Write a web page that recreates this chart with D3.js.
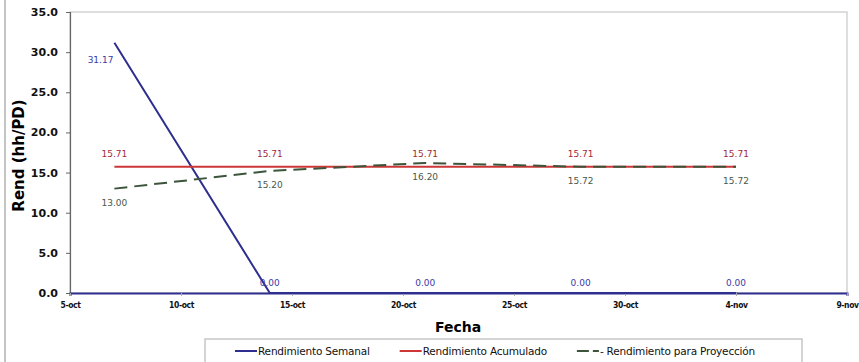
<!DOCTYPE html>
<html>
<head>
<meta charset="utf-8">
<script src="https://cdn.jsdelivr.net/npm/d3@7"></script>
<style>
  body { margin: 0; background: #fff; }
  svg { display: block; }
</style>
</head>
<body>
<div id="chart"></div>
<script>
// datos
const fechas = ["2009-10-07", "2009-10-14", "2009-10-21", "2009-10-28", "2009-11-04"];
const semanal = [31.17, 0, 0, 0, 0];
const acumulado = [15.71, 15.71, 15.71, 15.71, 15.71];
const proyeccion = [13.00, 15.20, 16.20, 15.72, 15.72];
const yTicks = [0, 5, 10, 15, 20, 25, 30, 35];
const xTickFechas = ["2009-10-05", "2009-10-10", "2009-10-15", "2009-10-20", "2009-10-25", "2009-10-30", "2009-11-04", "2009-11-09"];
const xTickLabels = ["5-oct", "10-oct", "15-oct", "20-oct", "25-oct", "30-oct", "4-nov", "9-nov"];
const nombres = ["Rendimiento Semanal", "Rendimiento Acumulado", "Rendimiento para Proyección"];

const width = 859, height = 362;
const margin = { top: 12, left: 70, bottom: 69, right: 12 };
const parse = d3.timeParse("%Y-%m-%d");

const svg = d3.select("#chart").append("svg")
  .attr("width", width)
  .attr("height", height);

// borde exterior
svg.append("line")
  .attr("x1", 5).attr("x2", 5).attr("y1", 0).attr("y2", height)
  .attr("stroke", "#b0b0b0").attr("stroke-width", 1.5);

const x = d3.scaleTime()
  .domain([parse(xTickFechas[0]), parse(xTickFechas[xTickFechas.length - 1])])
  .range([margin.left, width - margin.right]);

const y = d3.scaleLinear()
  .domain([0, 35])
  .range([height - margin.bottom, margin.top]);

// area del grafico
svg.append("rect")
  .attr("x", margin.left).attr("y", margin.top)
  .attr("width", width - margin.right - margin.left)
  .attr("height", height - margin.bottom - margin.top)
  .attr("fill", "#fff")
  .attr("stroke", "#c8c8c8").attr("stroke-width", 1.2);

// eje y
const yAxis = svg.append("g")
  .attr("transform", `translate(${margin.left},0)`)
  .call(d3.axisLeft(y).tickValues(yTicks).tickSize(4).tickFormat(d3.format(".1f")));
yAxis.select(".domain").attr("stroke", "#666").attr("stroke-width", 1.2);
yAxis.selectAll(".tick line").attr("stroke", "#666");
yAxis.selectAll("text")
  .attr("x", -12)
  .style("font-family", "DejaVu Sans")
  .style("font-weight", "bold")
  .style("font-size", "11px")
  .attr("fill", "#111");

// eje x
const xAxis = svg.append("g")
  .attr("transform", `translate(0,${y(0)})`)
  .call(d3.axisBottom(x).tickValues(xTickFechas.map(parse)).tickSize(3)
    .tickFormat((d, i) => xTickLabels[i]));
xAxis.select(".domain").attr("stroke", "#2e2e8f").attr("stroke-width", 2);
xAxis.selectAll(".tick line").attr("stroke", "#aaa");
xAxis.selectAll("text")
  .attr("y", 9)
  .style("font-family", "DejaVu Sans Condensed, DejaVu Sans")
  .style("font-weight", "bold")
  .style("font-size", "8.5px")
  .style("letter-spacing", "-0.4px")
  .attr("fill", "#111");

// titulos
svg.append("text")
  .attr("transform", `translate(24,${(margin.top + y(0)) / 2 + 3}) rotate(-90)`)
  .attr("text-anchor", "middle")
  .style("font-family", "DejaVu Sans")
  .style("font-weight", "bold")
  .style("font-size", "15px")
  .text("Rend (hh/PD)");

svg.append("text")
  .attr("x", 458).attr("y", 332)
  .attr("text-anchor", "middle")
  .style("font-family", "DejaVu Sans")
  .style("font-weight", "bold")
  .style("font-size", "14px")
  .text("Fecha");

const series = [
  { name: nombres[0], values: semanal, color: "#2e2e8f", label: "#3a3aa8", dash: null },
  { name: nombres[1], values: acumulado, color: "#cc3636", label: "#a02a3a", dash: null },
  { name: nombres[2], values: proyeccion, color: "#3b553b", label: "#4a584a", dash: "13,7" }
];

const line = d3.line()
  .x(d => x(d.fecha))
  .y(d => y(d.v));

series.forEach((s, k) => {
  const pts = s.values.map((v, i) => ({ fecha: parse(fechas[i]), v: v }));
  svg.append("path")
    .datum(pts)
    .attr("fill", "none")
    .attr("stroke", s.color)
    .attr("stroke-width", 2)
    .attr("stroke-dasharray", s.dash)
    .attr("d", line);

  svg.append("g").selectAll("text")
    .data(pts)
    .join("text")
    .attr("x", d => {
      if (k === 0 && d.v > 0) return x(d.fecha) - 1;
      return x(d.fecha);
    })
    .attr("y", d => {
      if (k === 0) return d.v > 0 ? y(d.v) + 20 : y(d.v) - 7;
      if (k === 1) return y(d.v) - 10;
      return y(d.v) + 17;
    })
    .attr("text-anchor", d => (k === 0 && d.v > 0) ? "end" : "middle")
    .style("font-family", "DejaVu Sans")
    .style("font-size", "9px")
    .attr("fill", s.label)
    .text(d => d3.format(".2f")(d.v));
});

// leyenda
const leg = svg.append("g");
leg.append("rect")
  .attr("x", 205).attr("y", 339)
  .attr("width", 597).attr("height", 30)
  .attr("fill", "#fff")
  .attr("stroke", "#b8b8b8").attr("stroke-width", 1.2);

let lx = 235;
series.forEach(s => {
  leg.append("line")
    .attr("x1", lx).attr("x2", lx + 22)
    .attr("y1", 351).attr("y2", 351)
    .attr("stroke", s.color).attr("stroke-width", 2)
    .attr("stroke-dasharray", s.dash ? "12,4" : null);
  const t = leg.append("text")
    .attr("x", lx + 23).attr("y", 355)
    .style("font-family", "DejaVu Sans")
    .style("font-size", "10.5px")
    .style("letter-spacing", "-0.2px")
    .attr("fill", "#111")
    .text((s.dash ? "- " : "") + s.name);
  lx += 23 + t.node().getComputedTextLength() + 30;
});
</script>
</body>
</html>
